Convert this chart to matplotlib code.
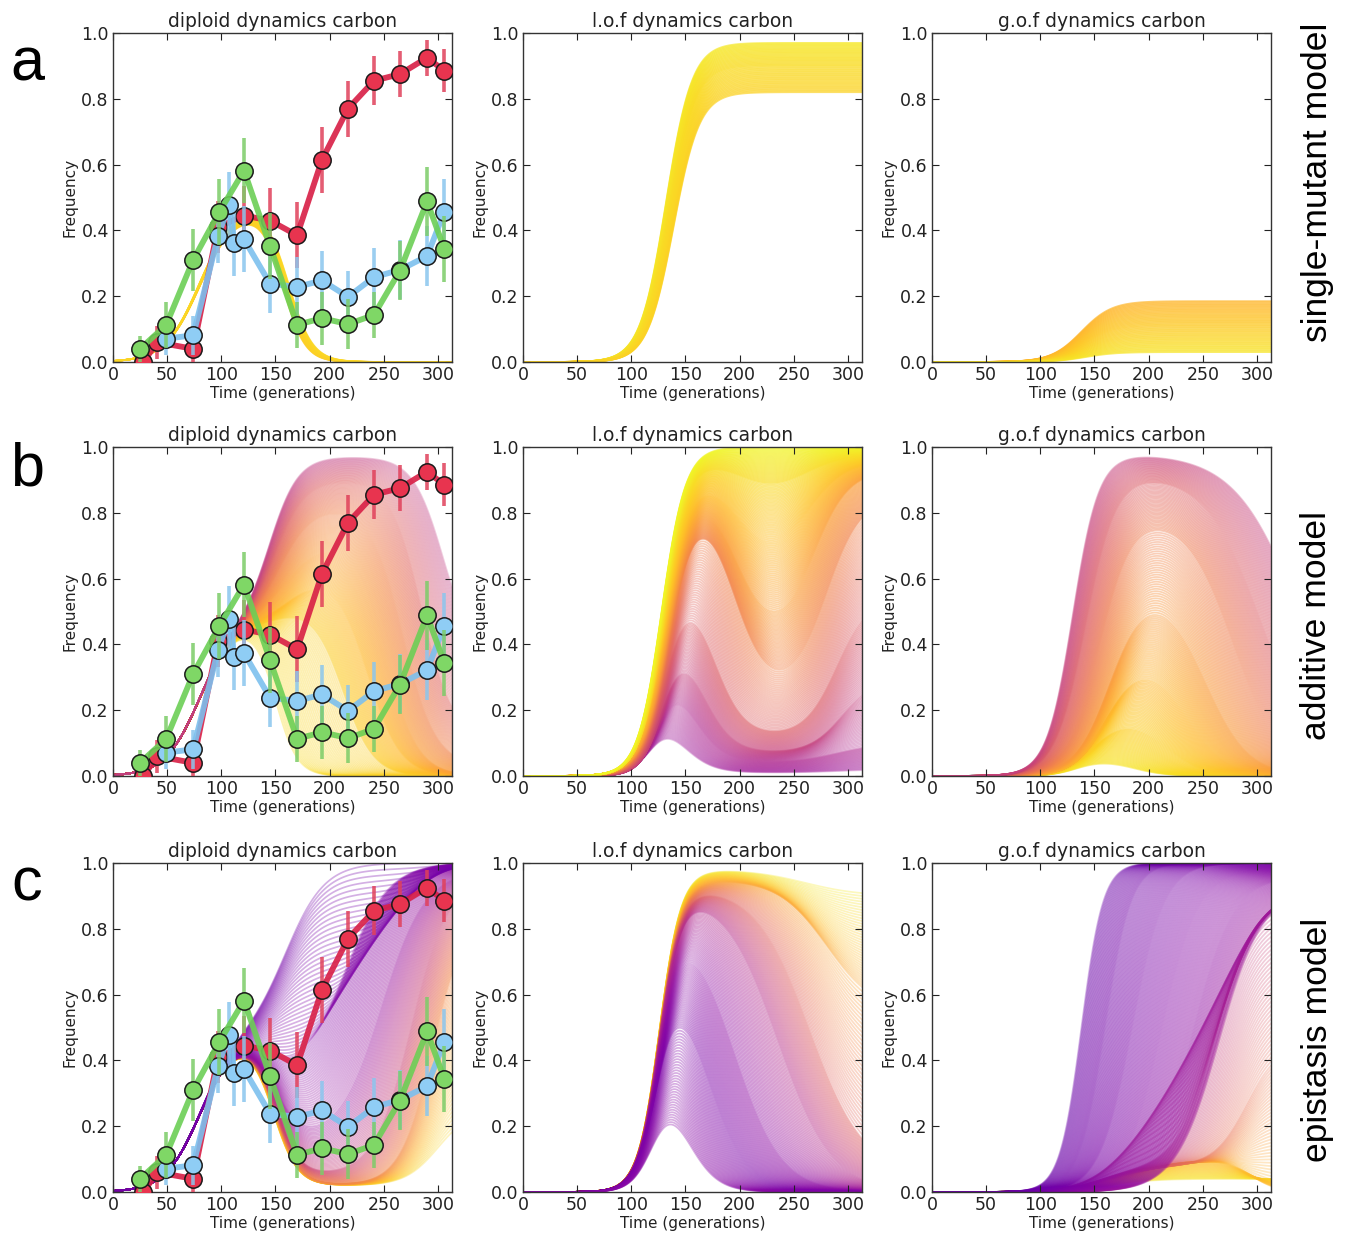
import matplotlib
matplotlib.use("Agg")
import matplotlib.pyplot as plt
import numpy as np
from matplotlib.collections import LineCollection

TIME_RED = [28, 41, 74, 97, 121, 145, 170, 193, 217, 241, 265, 290, 306]
RED = [0.0, 0.06, 0.04, 0.41, 0.445, 0.43, 0.385, 0.615, 0.77, 0.855, 0.875, 0.925, 0.885]
RED_ERR = [0.02, 0.05, 0.04, 0.08, 0.09, 0.10, 0.10, 0.10, 0.085, 0.075, 0.07, 0.055, 0.065]

TIME_GREEN = [25, 49, 74, 98, 121, 145, 170, 193, 217, 241, 265, 290, 306]
GREEN = [0.04, 0.112, 0.31, 0.455, 0.582, 0.352, 0.113, 0.133, 0.115, 0.143, 0.278, 0.488, 0.343]
GREEN_ERR = [0.04, 0.07, 0.095, 0.10, 0.10, 0.10, 0.07, 0.08, 0.075, 0.07, 0.09, 0.105, 0.10]

TIME_BLUE = [49, 74, 97, 107, 112, 121, 145, 170, 193, 217, 241, 265, 290, 306]
BLUE = [0.071, 0.081, 0.382, 0.478, 0.362, 0.373, 0.238, 0.228, 0.248, 0.198, 0.258, 0.28, 0.322, 0.457]
BLUE_ERR = [0.05, 0.06, 0.08, 0.10, 0.10, 0.10, 0.09, 0.09, 0.09, 0.08, 0.09, 0.09, 0.09, 0.10]

# model trajectory families: anchor curves
# (colour, a, rise_mid, rise_w, b, fall_mid, fall_w, c, late_mid, late_w)
A_DIPLOID = [
    (0.90, 0.46, 80, 16, 0.46, 200, 15, 0.0, 157, 10),
    (0.92, 0.48, 80, 16, 0.48, 200, 15, 0.0, 162, 11),
]
A_LOF = [
    (0.96, 0.97, 132, 12, 0.97, 250, 15, 0.97, 280, 15),
    (0.93, 0.90, 135, 12, 0.90, 250, 15, 0.90, 280, 15),
    (0.91, 0.82, 139, 12, 0.82, 250, 15, 0.82, 280, 15),
]
A_GOF = [
    (0.84, 0.185, 138, 14, 0.185, 250, 15, 0.185, 280, 15),
    (0.89, 0.11, 140, 14, 0.11, 250, 15, 0.11, 280, 15),
    (0.95, 0.03, 142, 14, 0.03, 250, 15, 0.03, 280, 15),
]
B_DIPLOID = [
    (0.93, 0.47, 80, 16, 0.47, 200, 15, 0.0, 150, 10),
    (0.90, 0.47, 80, 16, 0.52, 160, 14, 0.0, 212, 14),
    (0.85, 0.47, 80, 16, 0.62, 165, 15, 0.0, 235, 15),
    (0.78, 0.47, 80, 16, 0.72, 160, 16, 0.0, 252, 15),
    (0.70, 0.47, 80, 16, 0.82, 155, 15, 0.03, 268, 15),
    (0.60, 0.47, 80, 16, 0.90, 150, 14, 0.12, 285, 14),
    (0.46, 0.47, 80, 16, 0.97, 145, 13, 0.35, 305, 14),
]
B_LOF = [
    (0.35, 0.20, 120, 10, 0.01, 145, 14, 0.02, 290, 20),
    (0.40, 0.35, 127, 10, 0.04, 155, 14, 0.10, 290, 20),
    (0.48, 0.45, 130, 10, 0.07, 165, 14, 0.30, 295, 15),
    (0.58, 0.62, 132, 11, 0.12, 175, 14, 0.55, 290, 15),
    (0.70, 0.85, 135, 12, 0.25, 195, 15, 0.85, 280, 16),
    (0.78, 0.90, 134, 12, 0.40, 197, 16, 0.93, 268, 16),
    (0.86, 0.94, 132, 12, 0.60, 200, 18, 0.96, 260, 18),
    (0.93, 0.97, 130, 11, 0.82, 205, 20, 0.98, 255, 20),
    (0.99, 1.00, 128, 11, 1.00, 205, 20, 1.00, 255, 20),
]
B_GOF = [
    (0.95, 0.05, 135, 12, 0.0, 185, 15, 0.0, 330, 15),
    (0.90, 0.18, 150, 14, 0.0, 215, 17, 0.0, 330, 15),
    (0.84, 0.36, 162, 15, 0.0, 235, 18, 0.0, 330, 15),
    (0.77, 0.58, 165, 16, 0.0, 252, 20, 0.0, 330, 15),
    (0.68, 0.80, 155, 15, 0.0, 278, 22, 0.0, 330, 15),
    (0.58, 0.92, 142, 14, 0.0, 305, 26, 0.0, 330, 15),
    (0.48, 0.98, 130, 12, 0.0, 340, 30, 0.0, 330, 15),
]
C_DIPLOID = [
    (0.92, 0.47, 80, 16, 0.02, 148, 11, 0.25, 300, 15),
    (0.72, 0.47, 80, 16, 0.02, 150, 11, 0.85, 295, 15),
    (0.50, 0.47, 80, 16, 0.05, 150, 11, 0.95, 275, 17),
    (0.33, 0.47, 80, 16, 0.15, 150, 12, 0.98, 248, 20),
    (0.27, 0.47, 80, 16, 0.35, 145, 12, 1.00, 215, 20),
    (0.22, 0.47, 80, 16, 1.00, 160, 18, 1.00, 300, 15),
]
C_LOF = [
    (0.96, 0.98, 126, 10, 0.90, 260, 25, 0.90, 330, 10),
    (0.80, 0.95, 126, 10, 0.55, 280, 22, 0.55, 330, 10),
    (0.60, 0.93, 126, 10, 0.05, 265, 25, 0.05, 330, 10),
    (0.42, 0.92, 126, 10, 0.00, 235, 25, 0.00, 330, 10),
    (0.30, 0.85, 126, 10, 0.00, 195, 22, 0.00, 330, 10),
    (0.25, 0.70, 124, 10, 0.00, 170, 18, 0.00, 330, 10),
    (0.28, 0.35, 122, 10, 0.00, 150, 14, 0.00, 330, 10),
]
C_GOF = [
    (0.95, 0.04, 165, 20, 0.04, 300, 15, 0.04, 330, 10),
    (0.85, 0.10, 185, 22, 0.00, 295, 12, 0.00, 330, 10),
    (0.65, 0.08, 165, 20, 0.45, 290, 15, 0.45, 330, 10),
    (0.45, 0.07, 155, 18, 0.90, 262, 18, 0.90, 330, 10),
    (0.34, 0.92, 265, 20, 0.92, 300, 15, 0.92, 330, 10),
    (0.30, 0.96, 240, 19, 0.96, 300, 15, 0.96, 330, 10),
    (0.27, 0.98, 212, 17, 0.98, 300, 15, 0.98, 330, 10),
    (0.24, 1.00, 185, 15, 1.00, 300, 15, 1.00, 330, 10),
    (0.22, 1.00, 160, 12, 1.00, 300, 15, 1.00, 330, 10),
    (0.20, 1.00, 138, 10, 1.00, 300, 15, 1.00, 330, 10),
]

ROWS = [
    ("a", "single-mutant model", [A_DIPLOID, A_LOF, A_GOF]),
    ("b", "additive model", [B_DIPLOID, B_LOF, B_GOF]),
    ("c", "epistasis model", [C_DIPLOID, C_LOF, C_GOF]),
]
TITLES = ["diploid dynamics carbon", "l.o.f dynamics carbon", "g.o.f dynamics carbon"]

T = np.linspace(0, 315, 320)
CMAP = plt.get_cmap("plasma")

# line opacity per panel, as (alpha at colour 0, alpha at colour 1)
PANEL_ALPHA = [
    [(0.7, 0.7), (0.7, 0.7), (0.7, 0.7)],
    [(0.12, 0.38), (0.08, 0.55), (0.10, 0.52)],
    [(0.32, 0.28), (0.33, 0.30), (0.25, 0.30)],
]
ROW_DENSITY = [20, 36, 36]


def _sig(t, mid, width):
    return 1.0 / (1.0 + np.exp(-(t - mid) / width))


def _trajectory(p):
    a, m1, w1, b, m2, w2, c, m3, w3 = p
    return _sig(T, m1, w1) * (a + (b - a) * _sig(T, m2, w2) + (c - b) * _sig(T, m3, w3))


def draw_family(ax, anchors, per_gap, alpha_range):
    anchors = np.asarray(anchors, dtype=float)
    params = []
    for i in range(len(anchors) - 1):
        for w in np.linspace(0, 1, per_gap, endpoint=False):
            params.append((1 - w) * anchors[i] + w * anchors[i + 1])
    params.append(anchors[-1])
    lo, hi = alpha_range
    segs, cols = [], []
    for p in params:
        segs.append(np.column_stack([T, _trajectory(p[1:])]))
        rgba = list(CMAP(p[0]))
        rgba[3] = lo + (hi - lo) * p[0]
        cols.append(rgba)
    ax.add_collection(LineCollection(segs, colors=cols, linewidths=1.25, zorder=1))


def draw_observed(ax):
    series = [
        (TIME_RED, RED, RED_ERR, "#d81e45", "#e8344f", "#e0405a"),
        (TIME_BLUE, BLUE, BLUE_ERR, "#7cc0ee", "#8fcdf5", "#8ac6ee"),
        (TIME_GREEN, GREEN, GREEN_ERR, "#6ccf55", "#7fd766", "#7ccc68"),
    ]
    for z, (t, y, err, line_c, face_c, err_c) in enumerate(series):
        ax.errorbar(t, y, yerr=err, fmt="none", ecolor=err_c, elinewidth=2.6,
                    alpha=0.85, zorder=3 + z * 3)
        ax.plot(t, y, "-", color=line_c, lw=4.2, alpha=0.9, zorder=4 + z * 3)
        ax.plot(t, y, "o", ms=12.5, mfc=face_c, mec="#1a1a1a", mew=1.1,
                zorder=5 + z * 3)


def style_axes(ax, title):
    ax.set_xlim(0, 313)
    ax.set_ylim(0, 1.0)
    ax.set_xticks(range(0, 301, 50))
    ax.set_yticks([0.0, 0.2, 0.4, 0.6, 0.8, 1.0])
    ax.set_yticklabels(["0.0", "0.2", "0.4", "0.6", "0.8", "1.0"])
    ax.tick_params(direction="in", top=True, right=True, length=5, width=0.8,
                   labelsize=12.5, colors="#222222", pad=3)
    for sp in ax.spines.values():
        sp.set_color("#333333")
        sp.set_linewidth(1.0)
    ax.set_title(title, fontsize=13.5, pad=4, color="#222222")
    ax.set_xlabel("Time (generations)", fontsize=11, labelpad=1, color="#222222")
    ax.set_ylabel("Frequency", fontsize=11, labelpad=3, color="#222222")


W, H = 1348, 1235
fig = plt.figure(figsize=(W / 100, H / 100), dpi=100)
fig.patch.set_facecolor("white")

col_left = [113, 523, 932]
row_top = [33, 447, 863]
ax_w, ax_h = 339, 329
row_label_y = [65, 470, 885]
side_label_y = [182, 625, 1040]

for r, (letter, model_name, families) in enumerate(ROWS):
    for c in range(3):
        ax = fig.add_axes([col_left[c] / W, 1 - (row_top[r] + ax_h) / H, ax_w / W, ax_h / H])
        draw_family(ax, families[c], ROW_DENSITY[r], PANEL_ALPHA[r][c])
        if c == 0:
            draw_observed(ax)
        style_axes(ax, TITLES[c])
    fig.text(27 / W, 1 - row_label_y[r] / H, letter, fontsize=44, family="Liberation Sans",
             ha="center", va="center")
    fig.text(1317 / W, 1 - side_label_y[r] / H, model_name, fontsize=25.5,
             family="Liberation Sans", rotation=90, ha="center", va="center")

fig.savefig("out.png", dpi=100, facecolor="white")
